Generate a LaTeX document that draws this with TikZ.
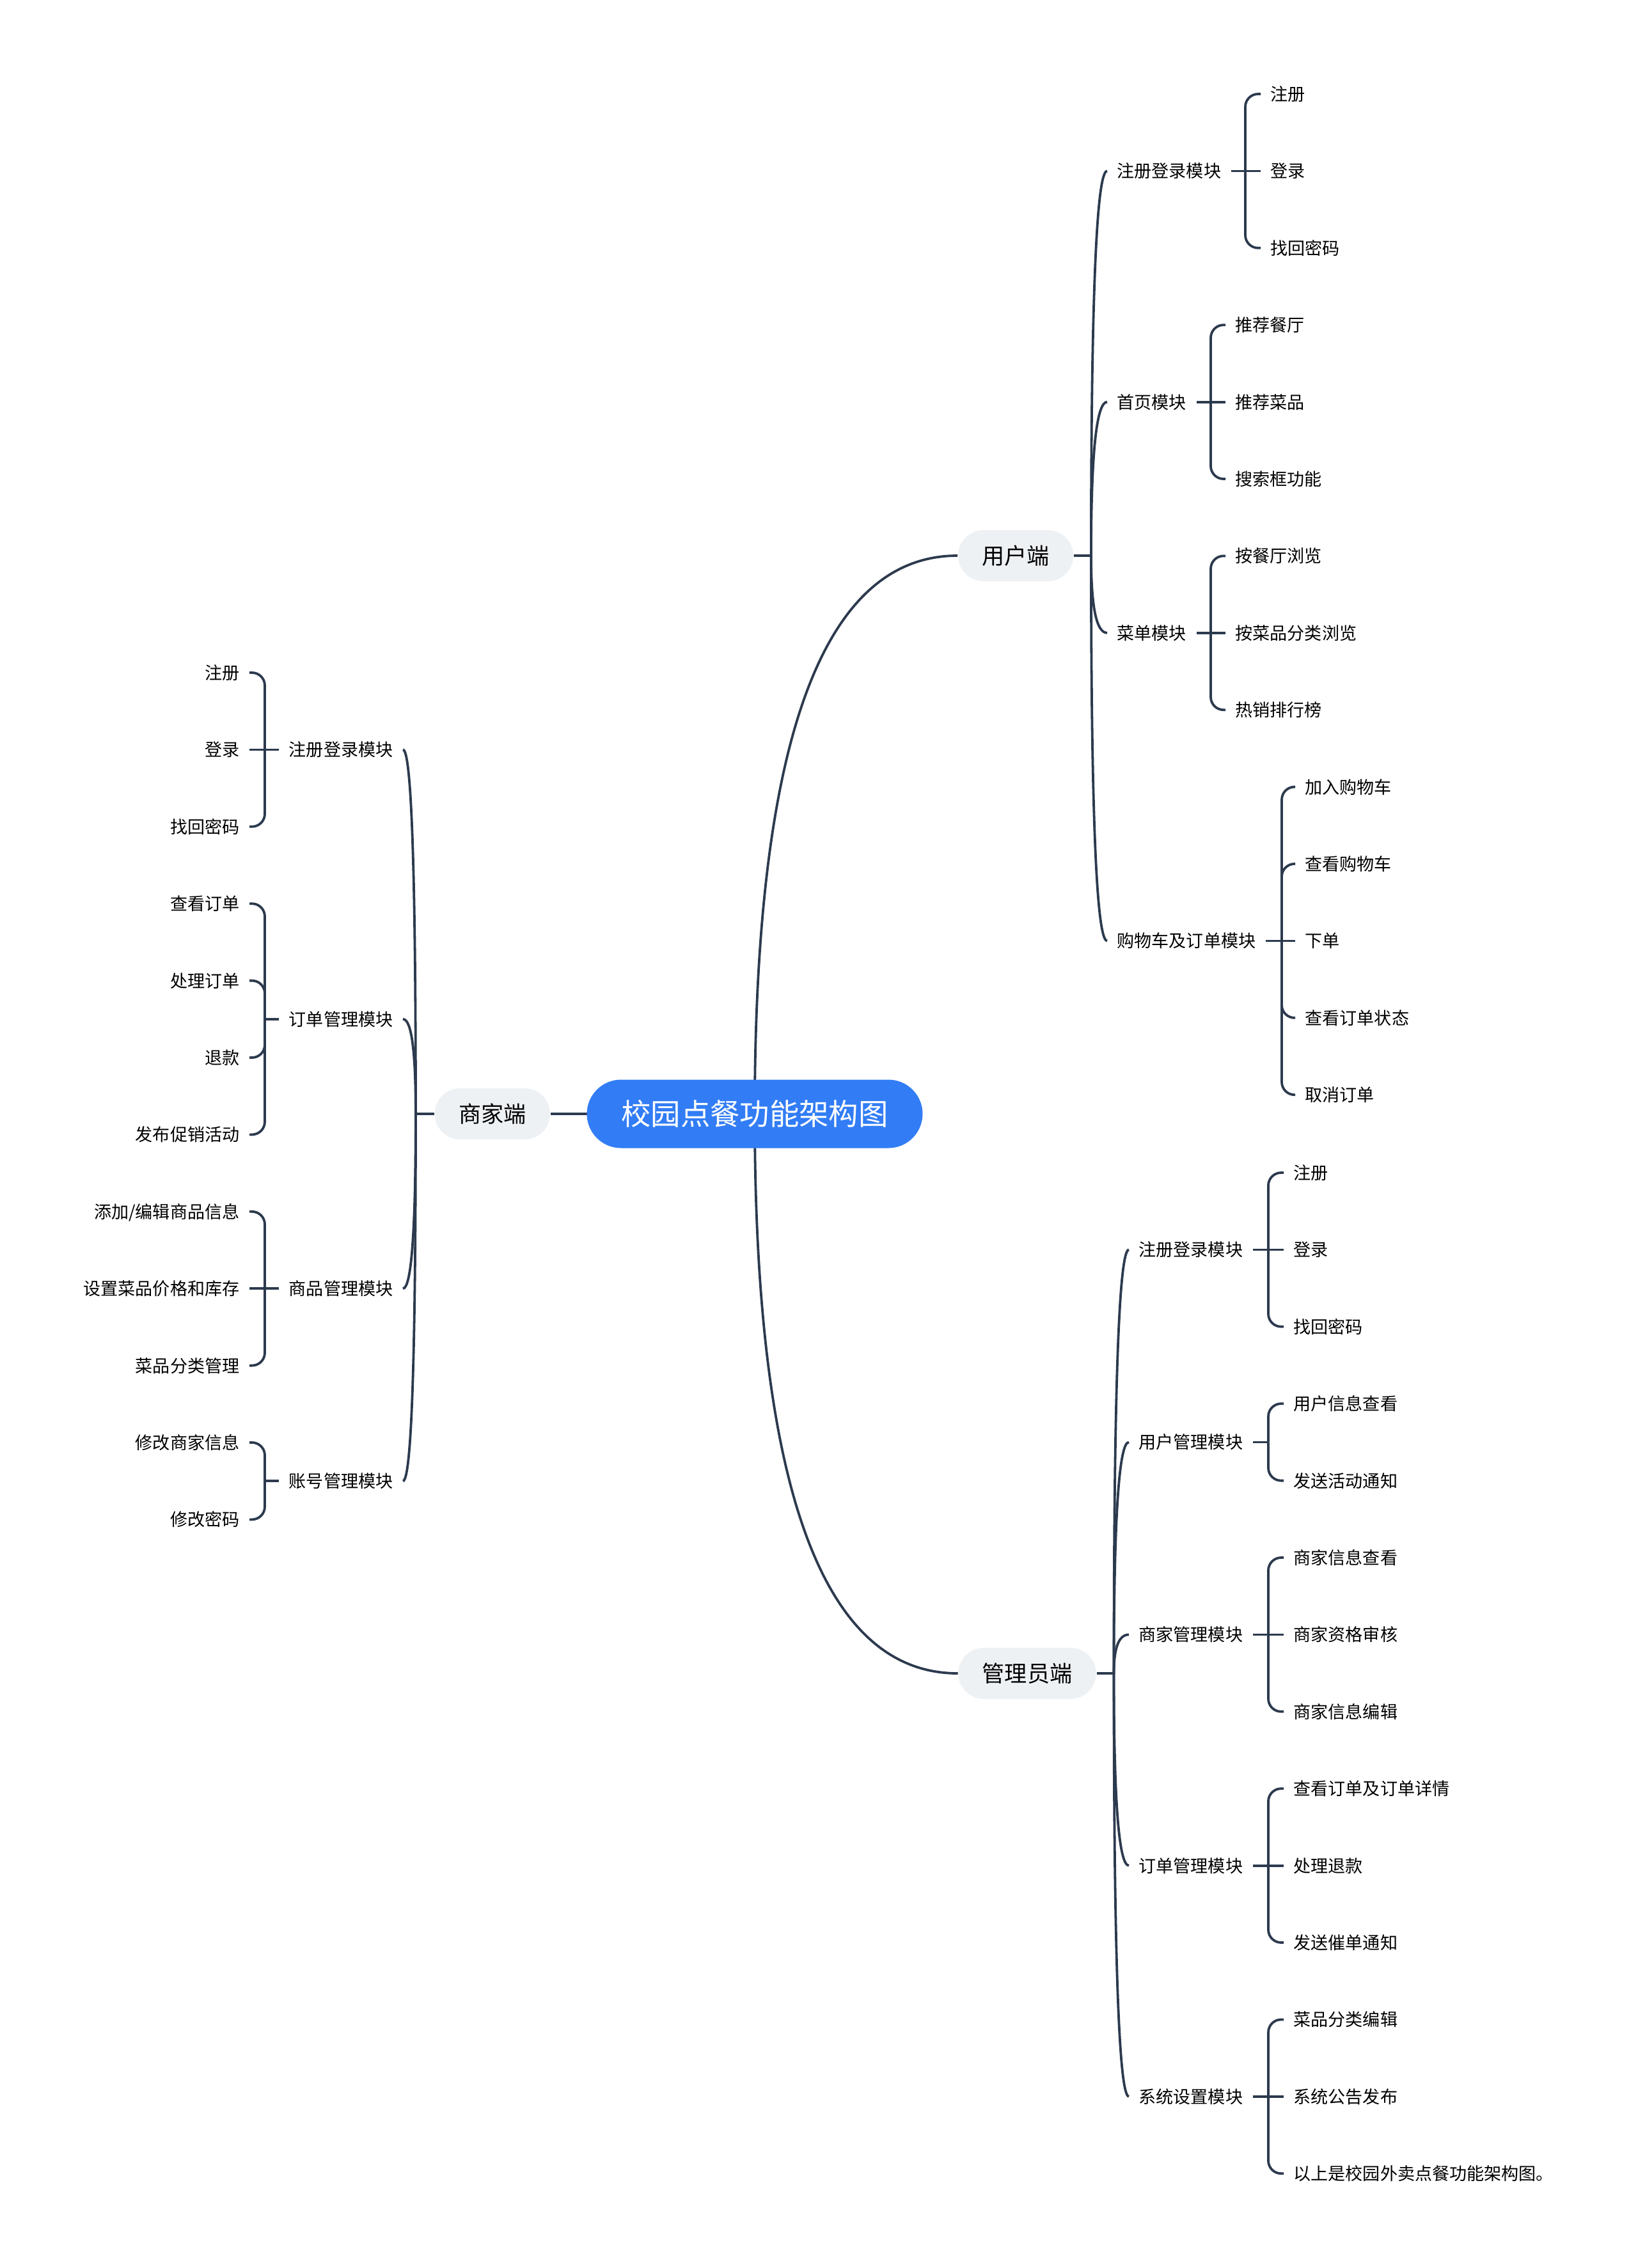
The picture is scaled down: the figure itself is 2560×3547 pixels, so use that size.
\documentclass[tikz,border=0pt]{standalone}
\usepackage{fontspec}
\setmainfont{Noto Sans CJK SC}
\usepackage{tikz}
\usetikzlibrary{backgrounds}
\usetikzlibrary{
    positioning,
    calc}

\definecolor{linkgray}{RGB}{44,58,78}
\definecolor{rootblue}{RGB}{50,125,245}
\definecolor{sidegray}{RGB}{238,241,244}

\tikzset{
    rootnode/.style={fill=rootblue, text=white, rounded corners=5.35mm, minimum width=52.5mm, minimum height=10.7mm, font=\fontsize{13.2}{16}\selectfont},
    sidenode/.style={fill=sidegray, text=black, rounded corners=4mm, minimum height=8mm, inner xsep=3.75mm, font=\fontsize{10}{12}\selectfont},
    leafnode/.style={text=black, inner xsep=1.5mm, inner ysep=0.5mm, text height=0.8em, text depth=0.2em, font=\fontsize{7.7}{9}\selectfont},
    link/.style={draw=linkgray, line width=0.38mm},
    curvelink/.style={to path={.. controls ($(\tikztostart)!0.6667!(\tikztostart|-\tikztotarget)$) and ($(\tikztotarget)!0.6667!(\tikztostart|-\tikztotarget)$) .. (\tikztotarget)}}
}

\begin{document}
\begin{tikzpicture}[x=0.1mm, y=-0.1mm]
\newcommand{\rowstep}{120.4}

\useasboundingbox (0,0) rectangle (2560,3547);

% centre and the three sides
\node[rootnode] (root) at (1180,1742) {校园点餐功能架构图};
\node[sidenode] (user) at (1588,869) {用户端};
\node[sidenode] (admin) at (1606,2617) {管理员端};
\node[sidenode, left=5.6mm of root] (shop) {商家端};

\begin{scope}[on background layer]
\fill[white] (0,0) rectangle (2560,3547);
\draw[link] (root.center) to[curvelink] (user.west);
\draw[link] (root.center) to[curvelink] (admin.west);
\draw[link] (root.center) -- (shop.east);
\end{scope}

\coordinate (userj) at ($(user.east)+(27,0)$);
\coordinate (adminj) at ($(admin.east)+(27,0)$);
\coordinate (shopj) at ($(shop.west)+(-29,0)$);
\draw[link] (user.east) -- (userj);
\draw[link] (admin.east) -- (adminj);
\draw[link] (shop.west) -- (shopj);

% modules
\node[leafnode, anchor=west] (u1) at (1731,267.4) {注册登录模块};
\node[leafnode, anchor=west] (u2) at (1731,628.6) {首页模块};
\node[leafnode, anchor=west] (u3) at (1731,989.8) {菜单模块};
\node[leafnode, anchor=west] (u4) at (1731,1471.4) {购物车及订单模块};

\node[leafnode, anchor=west] (a1) at (1765,1954.4) {注册登录模块};
\node[leafnode, anchor=west] (a2) at (1765,2255.4) {用户管理模块};
\node[leafnode, anchor=west] (a3) at (1765,2556.4) {商家管理模块};
\node[leafnode, anchor=west] (a4) at (1765,2917.6) {订单管理模块};
\node[leafnode, anchor=west] (a5) at (1765,3278.8) {系统设置模块};

\node[leafnode, anchor=east] (s1) at (630,1172.4) {注册登录模块};
\node[leafnode, anchor=east] (s2) at (630,1593.8) {订单管理模块};
\node[leafnode, anchor=east] (s3) at (630,2015.2) {商品管理模块};
\node[leafnode, anchor=east] (s4) at (630,2316.2) {账号管理模块};

\foreach \c in {u1,u2,u3,u4}
    \draw[link] (userj) to[curvelink] (\c.west);
\foreach \c in {a1,a2,a3,a4,a5}
    \draw[link] (adminj) to[curvelink] (\c.west);
\foreach \c in {s1,s2,s3,s4}
    \draw[link] (shopj) to[curvelink] (\c.east);

% leaves, right hand side
\foreach \p/\cy/\jx/\lx/\ytop/\items in {
    u1/267.4/1947/1971/147/{注册,登录,找回密码},
    u2/628.6/1893/1916/508.2/{推荐餐厅,推荐菜品,搜索框功能},
    u3/989.8/1893/1916/869.4/{按餐厅浏览,按菜品分类浏览,热销排行榜},
    u4/1471.4/2004/2025/1230.6/{加入购物车,查看购物车,下单,查看订单状态,取消订单},
    a1/1954.4/1983/2007/1834/{注册,登录,找回密码},
    a2/2255.4/1983/2007/2195.2/{用户信息查看,发送活动通知},
    a3/2556.4/1983/2007/2436/{商家信息查看,商家资格审核,商家信息编辑},
    a4/2917.6/1983/2007/2797.2/{查看订单及订单详情,处理退款,发送催单通知},
    a5/3278.8/1983/2007/3158.4/{菜品分类编辑,系统公告发布,以上是校园外卖点餐功能架构图。}}
{
\coordinate (\p j) at (\jx,\cy);
\draw[link] (\p.east) -- (\p j);
\foreach \txt [count=\k from 0] in \items
{
    \pgfmathsetmacro{\gy}{\ytop+\rowstep*\k}
    \node[leafnode, anchor=west] (\p g\k) at (\lx,\gy) {\txt};
    \pgfmathparse{abs(\gy-\cy)<1 ? 1 : 0}
    \ifnum\pgfmathresult=1
        \draw[link] (\p j) -- (\p g\k.west);
    \else
        \draw[link, rounded corners=2mm] (\p j) |- (\p g\k.west);
    \fi
}
}

% leaves, left hand side
\foreach \p/\cy/\jx/\lx/\ytop/\items in {
    s1/1172.4/414/390/1052/{注册,登录,找回密码},
    s2/1593.8/414/390/1413.2/{查看订单,处理订单,退款,发布促销活动},
    s3/2015.2/414/390/1894.8/{添加/编辑商品信息,设置菜品价格和库存,菜品分类管理},
    s4/2316.2/414/390/2256/{修改商家信息,修改密码}}
{
\coordinate (\p j) at (\jx,\cy);
\draw[link] (\p.west) -- (\p j);
\foreach \txt [count=\k from 0] in \items
{
    \pgfmathsetmacro{\gy}{\ytop+\rowstep*\k}
    \node[leafnode, anchor=east] (\p g\k) at (\lx,\gy) {\txt};
    \pgfmathparse{abs(\gy-\cy)<1 ? 1 : 0}
    \ifnum\pgfmathresult=1
        \draw[link] (\p j) -- (\p g\k.east);
    \else
        \draw[link, rounded corners=2mm] (\p j) |- (\p g\k.east);
    \fi
}
}

\end{tikzpicture}
\end{document}
